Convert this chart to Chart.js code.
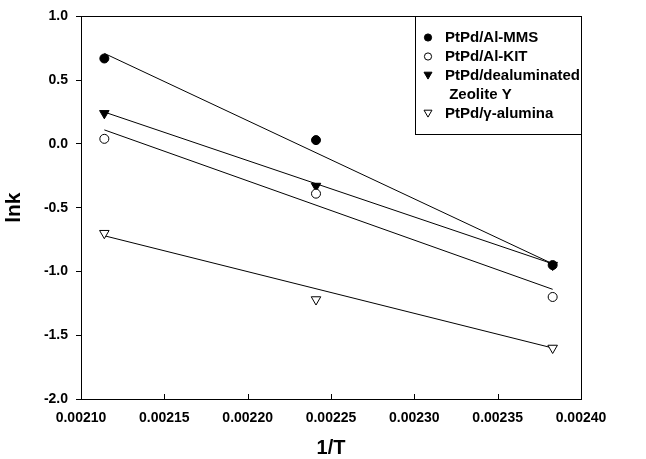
<!DOCTYPE html>
<html><head><meta charset="utf-8">
<script src="https://cdn.jsdelivr.net/npm/chart.js@4.4.0/dist/chart.umd.min.js"></script>
<style>html,body{margin:0;padding:0;background:#fff;overflow:hidden;}</style>
</head><body>
<canvas id="c" width="646" height="459"></canvas>
<script>
// ---- data ----
const invT     = [0.002114, 0.002241, 0.002383];
const mms      = [0.67, 0.03, -0.95];
const kit      = [0.04, -0.39, -1.20];
const dealum   = [0.24, -0.33, -0.95];
const gammaAl  = [-0.70, -1.22, -1.60];
// fitted lines (end points)
const fitX      = [0.002114, 0.002383];
const mmsFit    = [0.71, -0.94];
const kitFit    = [0.11, -1.14];
const dealumFit = [0.25, -0.94];
const gammaFit  = [-0.72, -1.60];
const seriesNames = ['PtPd/Al-MMS', 'PtPd/Al-KIT', ['PtPd/dealuminated', ' Zeolite Y'], 'PtPd/\u03b3-alumina'];
const xTicks = [0.00210, 0.00215, 0.00220, 0.00225, 0.00230, 0.00235, 0.00240];
const yTicks = [-2.0, -1.5, -1.0, -0.5, 0.0, 0.5, 1.0];
const xTitle = '1/T';
const yTitle = 'lnk';

const toPts = (xs, ys) => xs.map((x, i) => ({x: x, y: ys[i]}));

const markerStyles = [
  {pointStyle: 'circle', radius: 4.5, fill: '#000', rotation: 0},
  {pointStyle: 'circle', radius: 4.5, fill: '#fff', rotation: 0},
  {pointStyle: 'triangle', radius: 5.5, fill: '#000', rotation: 180},
  {pointStyle: 'triangle', radius: 5.5, fill: '#fff', rotation: 180}
];
const seriesVals = [mms, kit, dealum, gammaAl];
const fitVals = [mmsFit, kitFit, dealumFit, gammaFit];

const datasets = [];
seriesVals.forEach((vals, i) => {
  const m = markerStyles[i];
  datasets.push({
    label: Array.isArray(seriesNames[i]) ? seriesNames[i].join(' ') : seriesNames[i],
    data: toPts(invT, vals),
    showLine: false,
    pointStyle: m.pointStyle,
    rotation: m.rotation,
    pointRadius: m.radius,
    pointBackgroundColor: m.fill,
    pointBorderColor: '#000',
    pointBorderWidth: 1
  });
});
fitVals.forEach((vals, i) => {
  datasets.push({
    label: 'fit ' + i,
    data: toPts(fitX, vals),
    showLine: true,
    borderColor: '#000',
    borderWidth: 1,
    pointRadius: 0,
    fill: false
  });
});

function drawMarker(ctx, m, x, y, r) {
  ctx.save();
  ctx.beginPath();
  if (m.pointStyle === 'circle') {
    ctx.arc(x, y, r, 0, Math.PI * 2);
  } else {
    // downward triangle
    ctx.moveTo(x, y + r);
    ctx.lineTo(x - r * Math.sin(Math.PI / 3), y - r * 0.5);
    ctx.lineTo(x + r * Math.sin(Math.PI / 3), y - r * 0.5);
    ctx.closePath();
  }
  ctx.fillStyle = m.fill;
  ctx.fill();
  ctx.lineWidth = 1;
  ctx.strokeStyle = '#000';
  ctx.stroke();
  ctx.restore();
}

const framePlugin = {
  id: 'frame',
  afterDraw(chart) {
    const ctx = chart.ctx;
    const a = chart.chartArea;
    const xs = chart.scales.x;
    ctx.save();
    ctx.strokeStyle = '#000';
    ctx.lineWidth = 1;
    ctx.strokeRect(Math.round(a.left) + 0.5, Math.round(a.top) + 0.5, Math.round(a.right - a.left), Math.round(a.bottom - a.top));
    // inward x ticks
    ctx.beginPath();
    xTicks.forEach(v => {
      const px = Math.round(xs.getPixelForValue(v)) + 0.5;
      ctx.moveTo(px, a.bottom);
      ctx.lineTo(px, a.bottom - 5);
    });
    ctx.stroke();

    // legend
    const bx = 415, by = Math.round(a.top), bw = Math.round(a.right) - bx, bh = 118;
    ctx.fillStyle = '#fff';
    ctx.fillRect(bx + 0.5, by + 0.5, bw, bh);
    ctx.strokeRect(bx + 0.5, by + 0.5, bw, bh);
    ctx.font = 'bold 15px "Liberation Sans", Arial, sans-serif';
    ctx.fillStyle = '#000';
    ctx.textBaseline = 'middle';
    ctx.textAlign = 'left';
    let row = 0;
    const rowY = r => by + 21.5 + r * 19;
    seriesNames.forEach((name, i) => {
      const m = markerStyles[i];
      const lr = m.pointStyle === 'circle' ? 3.6 : 4.6;
      drawMarker(ctx, m, 428, rowY(row) + (m.pointStyle === 'circle' ? 0 : -1), lr);
      const lines = Array.isArray(name) ? name : [name];
      lines.forEach(t => {
        ctx.fillStyle = '#000';
        ctx.fillText(t, 445, rowY(row));
        row++;
      });
    });
    ctx.restore();
  }
};

const tickFont = {family: '"Liberation Sans", Arial, sans-serif', size: 14, weight: 'bold'};

new Chart(document.getElementById('c'), {
  type: 'scatter',
  data: {datasets: datasets},
  options: {
    responsive: false,
    animation: false,
    devicePixelRatio: 1,
    layout: {padding: {left: 0, right: 65, top: 13, bottom: 0}},
    plugins: {legend: {display: false}, tooltip: {enabled: false}},
    scales: {
      x: {
        type: 'linear',
        min: xTicks[0], max: xTicks[xTicks.length - 1],
        afterBuildTicks: s => { s.ticks = xTicks.map(v => ({value: v})); },
        afterFit: s => { s.height = 60; },
        grid: {display: false, drawTicks: false},
        border: {display: true, color: '#000', width: 1},
        ticks: {
          color: '#000', font: tickFont, padding: 11, maxRotation: 0, autoSkip: false,
          callback: v => Number(v).toFixed(5)
        },
        title: {display: true, text: xTitle, color: '#000',
          font: {family: '"Liberation Sans", Arial, sans-serif', size: 20, weight: 'bold', lineHeight: 1.1},
          padding: {top: 0, bottom: 0}}
      },
      y: {
        type: 'linear',
        min: yTicks[0], max: yTicks[yTicks.length - 1],
        afterBuildTicks: s => { s.ticks = yTicks.map(v => ({value: v})); },
        afterFit: s => { s.width = 81; },
        grid: {display: true, drawOnChartArea: false, drawTicks: true, tickLength: 5, color: '#000', tickColor: '#000'},
        border: {display: true, color: '#000', width: 1},
        ticks: {
          color: '#000', font: tickFont, padding: 8, autoSkip: false,
          callback: v => Number(v).toFixed(1)
        },
        title: {display: true, text: yTitle, color: '#000',
          font: {family: '"Liberation Sans", Arial, sans-serif', size: 21, weight: 'bold', lineHeight: 1.2},
          padding: {top: 2, bottom: 0}}
      }
    }
  },
  plugins: [framePlugin]
});
</script>
</body></html>
